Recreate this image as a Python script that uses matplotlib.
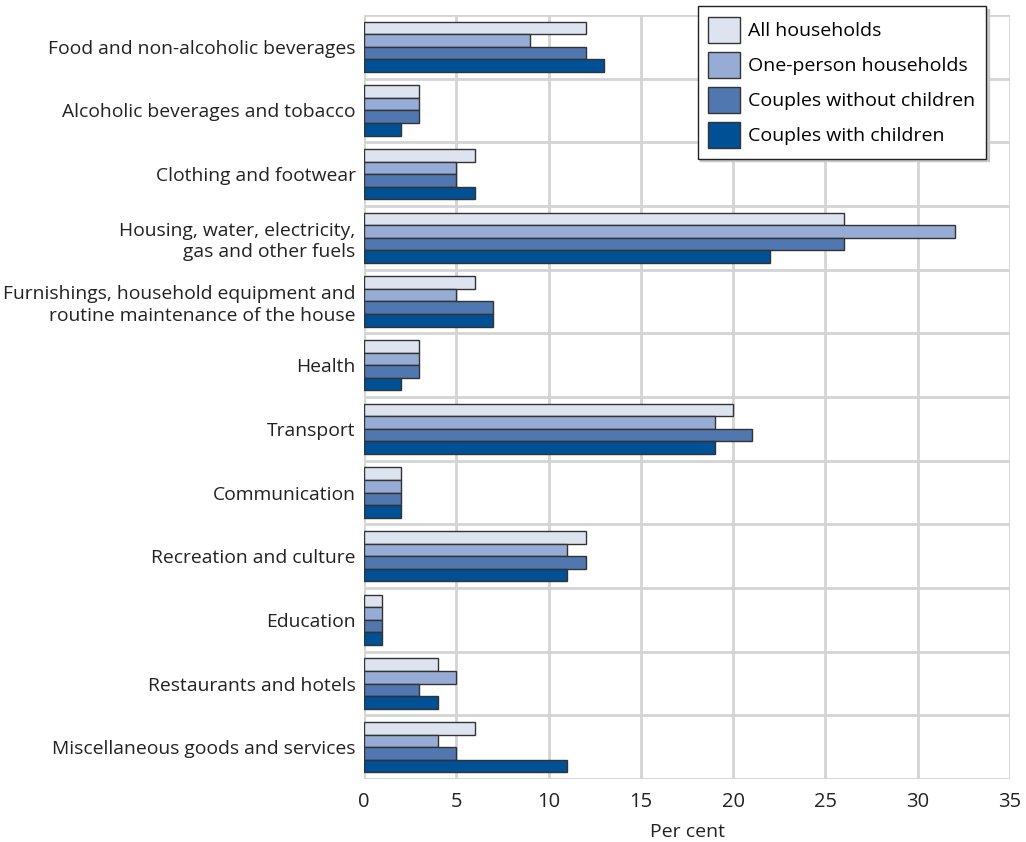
import numpy as np
import matplotlib
matplotlib.use("Agg")
import matplotlib.pyplot as plt
from matplotlib.ticker import MultipleLocator, FixedLocator

plt.rcParams['font.family'] = ['Open Sans', 'DejaVu Sans']

categories = ["Food and non-alcoholic beverages",
              "Alcoholic beverages and tobacco",
              "Clothing and footwear",
              "Housing, water, electricity,\ngas and other fuels",
              "Furnishings, household equipment and\nroutine maintenance of the house",
              "Health",
              "Transport",
              "Communication",
              "Recreation and culture",
              "Education",
              "Restaurants and hotels",
              "Miscellaneous goods and services"]

all_households = [12, 3, 6, 26, 6, 3, 20, 2, 12, 1, 4, 6]
one_person = [9, 3, 5, 32, 5, 3, 19, 2, 11, 1, 5, 4]
couples_no_children = [12, 3, 5, 26, 7, 3, 21, 2, 12, 1, 3, 5]
couples_children = [13, 2, 6, 22, 7, 2, 19, 2, 11, 1, 4, 11]

series = [("All households", all_households, "#dde3ef"),
          ("One-person households", one_person, "#97acd4"),
          ("Couples without children", couples_no_children, "#5077b0"),
          ("Couples with children", couples_children, "#005096")]

fig = plt.figure(figsize=(10.26, 8.42), dpi=100)
ax = fig.add_axes([0.3548, 0.0748, 0.6296, 0.9074])

y = np.arange(len(categories))
h = 0.197
for i, (name, vals, col) in enumerate(series):
    ax.barh(y + (i - 1.5) * h, vals, height=h, color=col, edgecolor="#333333",
            linewidth=1.0, label=name, zorder=3)

ax.set_xlim(0, 35)
ax.set_ylim(len(categories) - 0.5, -0.5)
ax.xaxis.set_major_locator(MultipleLocator(5))
ax.set_yticks(y)
ax.set_yticklabels(categories, fontsize=13.9, color="#222222", linespacing=1.25)
ax.yaxis.set_minor_locator(FixedLocator(np.arange(-0.5, len(categories), 1.0)))
ax.tick_params(axis="x", labelsize=14.5, labelcolor="#222222", length=0, pad=9)
ax.tick_params(axis="y", which="both", length=0, pad=6)
ax.grid(axis="x", which="major", color="#d4d4d4", linewidth=2.0, zorder=0)
ax.grid(axis="y", which="minor", color="#d4d4d4", linewidth=2.0, zorder=0)
for s in ax.spines.values():
    s.set_visible(False)
ax.set_xlabel("Per cent", fontsize=14, color="#222222", labelpad=8)

leg = fig.legend(loc="upper right", bbox_to_anchor=(0.961, 0.993), borderaxespad=0,
                 fontsize=14, frameon=True, fancybox=False,
                 shadow={"color": "#c8c8c8", "alpha": 1.0}, edgecolor="#222222",
                 handlelength=1.65, handleheight=1.7, handletextpad=0.4,
                 labelspacing=0.45, borderpad=0.55)
leg.get_frame().set_linewidth(1.0)

fig.savefig("out.png", dpi=100, facecolor="white")
